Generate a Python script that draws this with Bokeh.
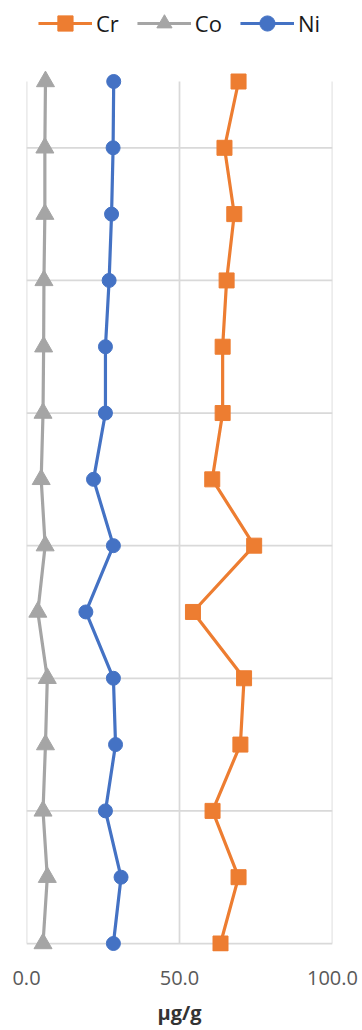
from bokeh.plotting import figure
from bokeh.models import Range1d, FixedTicker, NumeralTickFormatter, Legend, LegendItem
from bokeh.embed import file_html
from bokeh.resources import INLINE

# sample levels, top to bottom
levels = [13, 12, 11, 10, 9, 8, 7, 6, 5, 4, 3, 2, 1, 0]
cr = [69.3, 64.7, 67.9, 65.4, 64.1, 64.1, 60.7, 74.4, 54.4, 71.1, 69.9, 60.8, 69.3, 63.4]
co = [6.2, 6.0, 6.0, 5.7, 5.6, 5.4, 4.8, 6.1, 3.7, 6.8, 6.2, 5.4, 6.8, 5.4]
ni = [28.5, 28.3, 27.8, 27.0, 25.8, 25.8, 21.9, 28.4, 19.4, 28.4, 29.1, 25.8, 30.9, 28.4]

x_ticks = [0, 50, 100]
y_grid = [0, 2, 4, 6, 8, 10, 12]
y_top = 13

ORANGE = "#ED7D31"
GRAY = "#A5A5A5"
BLUE = "#4472C4"
GRID = "#D9D9D9"

p = figure(width=362, height=1030, output_backend="svg", toolbar_location=None,
           x_range=Range1d(0, 100), y_range=Range1d(-0.1206, 14.2216),
           y_axis_location=None,
           min_border_left=26, min_border_right=30, min_border_top=0, min_border_bottom=79)
p.outline_line_color = None
p.xgrid.visible = False
p.ygrid.visible = False
p.background_fill_color = "white"

# gridlines (bounded to data area)
p.segment(x0=[x_ticks[0]] * len(y_grid), x1=[x_ticks[-1]] * len(y_grid), y0=y_grid, y1=y_grid,
          line_color=GRID, line_width=1.75)
p.segment(x0=x_ticks, x1=x_ticks, y0=[y_grid[0]] * len(x_ticks), y1=[y_top] * len(x_ticks),
          line_color=GRID, line_width=1.75)

r_cr_l = p.line(cr, levels, line_color=ORANGE, line_width=3.2)
r_cr_m = p.scatter(cr, levels, marker="square", size=15, fill_color=ORANGE, line_color=ORANGE)
r_co_l = p.line(co, levels, line_color=GRAY, line_width=3.2)
r_co_m = p.scatter(co, levels, marker="triangle", size=18, fill_color=GRAY, line_color=GRAY)
r_ni_l = p.line(ni, levels, line_color=BLUE, line_width=3.2)
r_ni_m = p.scatter(ni, levels, marker="circle", size=14, fill_color=BLUE, line_color=BLUE)

legend = Legend(items=[
    LegendItem(label="Cr", renderers=[r_cr_l, r_cr_m]),
    LegendItem(label="Co", renderers=[r_co_l, r_co_m]),
    LegendItem(label="Ni", renderers=[r_ni_l, r_ni_m]),
], orientation="horizontal", location="top_center")
legend.glyph_width = 54
legend.glyph_height = 38
legend.label_standoff = 4
legend.spacing = 18
legend.padding = 0
legend.margin = 4
legend.border_line_color = None
legend.background_fill_alpha = 0
legend.label_text_font = "Open Sans"
legend.label_text_font_size = "22px"
legend.label_text_color = "#1A1A1A"
p.add_layout(legend)

ax = p.xaxis[0]
ax.ticker = FixedTicker(ticks=x_ticks)
ax.formatter = NumeralTickFormatter(format="0.0")
ax.axis_line_color = None
ax.major_tick_line_color = None
ax.minor_tick_line_color = None
ax.major_tick_out = 0
ax.major_tick_in = 0
ax.major_label_standoff = 19
ax.major_label_text_font = "Open Sans"
ax.major_label_text_font_size = "20px"
ax.major_label_text_color = "#595959"
ax.axis_label = "µg/g"
ax.axis_label_standoff = 11
ax.axis_label_text_font = "Open Sans"
ax.axis_label_text_font_size = "20px"
ax.axis_label_text_font_style = "bold"
ax.axis_label_text_color = "#333333"

open("out.html", "w").write(file_html(p, INLINE))
